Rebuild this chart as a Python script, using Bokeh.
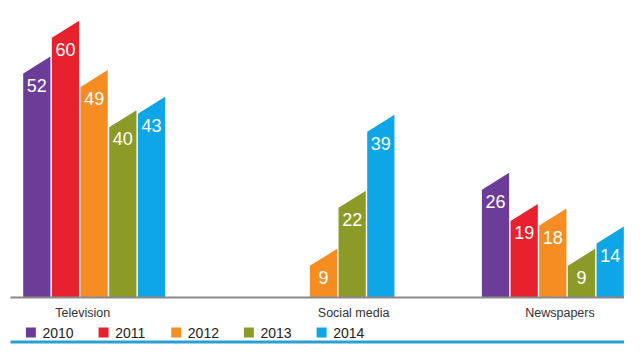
from bokeh.plotting import figure
from bokeh.models import Range1d
from bokeh.embed import file_html
from bokeh.resources import INLINE
from bokeh.core.properties import value

# ---- data ----
categories = ["Television", "Social media", "Newspapers"]
years = ["2010", "2011", "2012", "2013", "2014"]
television = [52, 60, 49, 40, 43]
social_media = [None, None, 9, 22, 39]
newspapers = [26, 19, 18, 9, 14]
series_by_cat = [television, social_media, newspapers]

colors = ["#6b3d98", "#e8212f", "#f58d23", "#8c9a27", "#0fa6e8"]

# ---- layout constants ----
GROUP_PITCH = 8
BAR_W = 0.95
SLANT = 1.9
LABEL_DROP = 4.5
cat_label_offset = [-0.4, 0.05, 0.25]
FONT = "Liberation Sans"

p = figure(width=624, height=344,
           x_range=Range1d(-0.767, 21.0), y_range=Range1d(-10.51, 66.44),
           output_backend="svg", toolbar_location=None, min_border=0,
           x_axis_type=None, y_axis_type=None)
p.grid.visible = False
p.outline_line_color = None
p.background_fill_color = "white"
p.border_fill_color = "white"

xs, ys, fc, lx, ly, lt = [], [], [], [], [], []
cat_x = []
for g, vals in enumerate(series_by_cat):
    drawn = []
    for s, v in enumerate(vals):
        if v is None:
            continue
        x0 = g * GROUP_PITCH + s + (1 - BAR_W) / 2
        x1 = x0 + BAR_W
        xs.append([x0, x0, x1, x1])
        ys.append([0, v - SLANT, v + SLANT, 0])
        fc.append(colors[s])
        lx.append((x0 + x1) / 2)
        ly.append(v - LABEL_DROP)
        lt.append(str(v))
        drawn.append((x0 + x1) / 2)
    cat_x.append(sum(drawn) / len(drawn) + cat_label_offset[g])

p.patches(xs=xs, ys=ys, fill_color=fc, line_color=None)

p.text(x=lx, y=ly, text=lt, text_color="white", text_font=value(FONT),
       text_font_size="18px", text_align="center", text_baseline="middle")

# baseline
p.segment(x0=[-0.42], y0=[0], x1=[21.4], y1=[0], line_color="#8a8a8a", line_width=2)

# category labels
p.text(x=cat_x, y=[-3.36] * len(categories), text=categories, text_color="#333333",
       text_font=value(FONT), text_font_size="12.5px", text_align="center",
       text_baseline="middle")

# legend
leg_text_x = [0.697 + 2.535 * i for i in range(len(years))]
leg_sq_x = [x - 0.404 for x in leg_text_x]
p.scatter(x=leg_sq_x, y=[-7.83] * len(years), marker="square", size=10,
          fill_color=colors, line_color=None)
p.text(x=leg_text_x, y=[-7.83] * len(years), text=years, text_color="#222222",
       text_font=value(FONT), text_font_size="14px", text_align="left",
       text_baseline="middle")

# bottom rule
p.segment(x0=[-0.42], y0=[-9.96], x1=[21.4], y1=[-9.96], line_color="#2b9fd3", line_width=3)

open("out.html", "w").write(file_html(p, INLINE))
